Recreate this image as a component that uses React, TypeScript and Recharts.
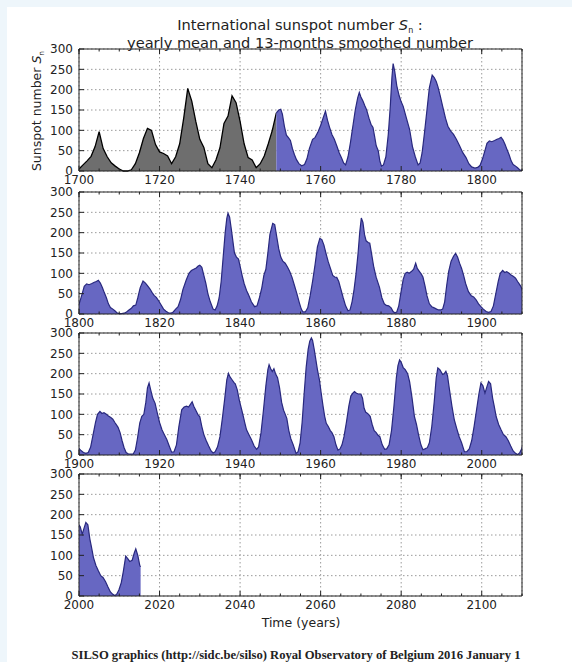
import React from 'react';
import { AreaChart, Area, XAxis, YAxis, CartesianGrid } from 'recharts';

// yearly mean sunspot number 1700..1749 (grey part of the first panel)
const YEARLY_FIRST_YEAR = 1700;
const yearlyMean = [
  5, 15, 25, 36, 60, 97, 55, 35, 20, 12,
  5, 0, 0, 3, 18, 45, 80, 105, 100, 65,
  47, 43, 37, 18, 35, 67, 130, 203, 172, 122,
  78, 58, 18, 8, 27, 57, 117, 135, 185, 168,
  122, 67, 33, 27, 8, 18, 37, 67, 100, 143,
];

// 13-months smoothed monthly number, [time, value]
const smoothed1700s: [number, number][] = [
  [1749, 143], [1749.6, 150], [1750.1, 152], [1750.5, 140], [1751, 110], [1751.5, 88], [1752, 82],
  [1752.5, 75], [1753, 55], [1753.5, 40], [1754, 28], [1754.6, 18], [1755.3, 13], [1756, 16],
  [1756.6, 30], [1757.2, 55], [1758, 78], [1758.6, 82], [1759.3, 95], [1760, 112], [1760.6, 130],
  [1761.2, 147], [1761.7, 125], [1762.2, 108], [1762.8, 90], [1763.4, 78], [1764, 62], [1764.6, 45],
  [1765.2, 32], [1765.7, 20], [1766.2, 15], [1766.8, 35], [1767.4, 70], [1768, 110], [1768.6, 150],
  [1769.2, 180], [1769.6, 193], [1770, 182], [1770.5, 172], [1771, 160], [1771.4, 151], [1772, 130],
  [1772.5, 115], [1773, 107], [1773.4, 85], [1773.8, 62], [1774.3, 50], [1774.7, 25], [1775.1, 12],
  [1775.6, 15], [1776.2, 35], [1776.8, 90], [1777.3, 160], [1777.7, 230], [1778, 264], [1778.4, 245],
  [1778.9, 210], [1779.5, 185], [1780, 170], [1780.5, 159], [1781.3, 130], [1782.1, 102], [1782.8, 60],
  [1783.5, 35], [1784.2, 15], [1784.7, 20], [1785.2, 45], [1785.8, 95], [1786.4, 150], [1787, 205],
  [1787.7, 236], [1788.2, 230], [1788.7, 220], [1789.1, 208], [1789.7, 185], [1790.3, 159], [1791, 130],
  [1791.6, 110], [1792.3, 98], [1793, 90], [1793.7, 78], [1794.5, 62], [1795.3, 45], [1796.1, 33],
  [1796.8, 18], [1797.5, 10], [1798.3, 7], [1799, 9], [1799.6, 14],
];
const smoothed1800s: [number, number][] = [
  [1800.2, 30], [1800.8, 50], [1801.3, 68], [1801.9, 74], [1802.5, 72], [1803.2, 75], [1803.8, 78],
  [1804.3, 80], [1804.8, 83], [1805.3, 76], [1805.8, 65], [1806.3, 52], [1806.8, 40], [1807.3, 25],
  [1807.8, 16], [1808.4, 12], [1808.9, 8], [1809.4, 3], [1810, 1], [1810.6, 1], [1811.2, 2],
  [1811.8, 5], [1812.4, 10], [1813, 14], [1813.5, 20], [1814.1, 22], [1814.6, 40], [1815.2, 65],
  [1815.9, 81], [1816.5, 76], [1817, 70], [1817.6, 62], [1818.2, 52], [1818.7, 45], [1819.2, 41],
  [1819.8, 32], [1820.4, 22], [1821, 12], [1821.6, 7], [1822.2, 3], [1822.8, 2], [1823.4, 5],
  [1824, 12], [1824.6, 18], [1825.2, 35], [1825.8, 60], [1826.6, 83], [1827.3, 100], [1827.9, 107],
  [1828.5, 110], [1829.1, 113], [1829.6, 118], [1830, 120], [1830.5, 115], [1831, 95], [1831.5, 75],
  [1832, 50], [1832.6, 30], [1833.3, 12], [1833.8, 10], [1834.3, 20], [1834.8, 40], [1835.3, 80],
  [1835.8, 140], [1836.3, 200], [1836.7, 235], [1837, 248], [1837.4, 238], [1837.8, 210], [1838.2, 180],
  [1838.6, 150], [1839.1, 140], [1839.6, 135], [1840, 118], [1840.5, 95], [1841, 75], [1841.6, 58],
  [1842.2, 45], [1842.8, 30], [1843.6, 18], [1844.2, 20], [1844.8, 40], [1845.4, 65], [1845.9, 95],
  [1846.4, 110], [1846.9, 150], [1847.4, 195], [1848.1, 223], [1848.6, 220], [1849.1, 190], [1849.6, 160],
  [1850.1, 140], [1850.6, 130], [1851.2, 125], [1851.8, 115], [1852.3, 105], [1852.9, 90], [1853.5, 70],
  [1854.1, 50], [1854.7, 28], [1855.2, 12], [1855.6, 5], [1856.2, 5], [1856.8, 15], [1857.4, 45],
  [1858, 80], [1858.6, 120], [1859.2, 165], [1859.8, 186], [1860.3, 183], [1860.8, 170], [1861.3, 150],
  [1861.9, 128], [1862.5, 110], [1863, 95], [1863.5, 91], [1864, 90], [1864.5, 80], [1865, 62],
  [1865.6, 40], [1866.2, 20], [1866.8, 8], [1867.3, 10], [1867.8, 30], [1868.3, 60], [1868.8, 100],
  [1869.3, 150], [1869.7, 200], [1870.1, 236], [1870.5, 225], [1870.9, 195], [1871.3, 180], [1871.8, 176],
  [1872.2, 174], [1872.7, 145], [1873.2, 115], [1873.8, 90], [1874.6, 66], [1875.2, 40], [1875.8, 25],
  [1876.3, 21], [1876.9, 20], [1877.5, 15], [1878, 6], [1878.4, 3], [1878.9, 5], [1879.4, 20],
  [1879.9, 50], [1880.5, 85], [1881, 100], [1881.5, 103], [1882, 100], [1882.6, 105], [1883.1, 110],
  [1883.6, 125], [1884, 112], [1884.5, 105], [1885, 98], [1885.4, 91], [1885.9, 70], [1886.4, 45],
  [1887, 25], [1887.6, 18], [1888.2, 15], [1888.8, 12], [1889.3, 10], [1889.8, 10], [1890.3, 12],
  [1890.8, 30], [1891.3, 70], [1891.8, 105], [1892.4, 130], [1893, 142], [1893.5, 149], [1894, 140],
  [1894.5, 125], [1895, 112], [1895.5, 95], [1896, 75], [1896.7, 55], [1897.4, 45], [1898, 42],
  [1898.6, 35], [1899.2, 25], [1899.8, 18],
];
const smoothed1900s: [number, number][] = [
  [1900.4, 12], [1901.1, 6], [1901.7, 4], [1902.3, 6], [1902.9, 20], [1903.5, 50], [1904.1, 80],
  [1904.6, 100], [1905.2, 107], [1905.7, 102], [1906.2, 104], [1906.8, 100], [1907.3, 96], [1907.9, 92],
  [1908.4, 88], [1908.9, 80], [1909.3, 74], [1909.7, 68], [1910.2, 55], [1910.7, 35], [1911.2, 18],
  [1911.7, 6], [1912.2, 3], [1912.8, 2], [1913.5, 3], [1914, 12], [1914.5, 40], [1915.1, 79],
  [1915.6, 95], [1916.1, 100], [1916.6, 130], [1917, 165], [1917.4, 177], [1917.8, 160], [1918.3, 140],
  [1918.9, 127], [1919.4, 105], [1920, 80], [1920.6, 62], [1921.2, 50], [1921.8, 38], [1922.4, 22],
  [1923, 7], [1923.6, 8], [1924.2, 25], [1924.8, 70], [1925.5, 111], [1926.1, 118], [1926.7, 120],
  [1927.2, 118], [1927.7, 125], [1928.1, 131], [1928.5, 120], [1929, 110], [1929.5, 100], [1930, 94],
  [1930.5, 70], [1931, 50], [1931.6, 35], [1932.2, 22], [1932.8, 10], [1933.3, 5], [1933.8, 8],
  [1934.4, 20], [1935, 45], [1935.6, 90], [1936.2, 140], [1936.7, 185], [1937.1, 201], [1937.5, 192],
  [1938, 185], [1938.5, 178], [1938.8, 175], [1939.3, 160], [1939.8, 135], [1940.3, 115], [1940.8, 95],
  [1941.2, 78], [1941.6, 62], [1942.2, 50], [1942.8, 38], [1943.5, 22], [1944.1, 14], [1944.6, 20],
  [1945.2, 55], [1945.8, 110], [1946.4, 170], [1946.9, 210], [1947.2, 222], [1947.6, 212], [1948, 205],
  [1948.4, 212], [1948.8, 200], [1949.3, 190], [1949.8, 165], [1950.3, 130], [1950.8, 110], [1951.1, 103],
  [1951.6, 90], [1952.1, 60], [1952.6, 40], [1953.2, 25], [1953.9, 4], [1954.4, 8], [1954.9, 30],
  [1955.4, 80], [1955.9, 150], [1956.4, 215], [1956.9, 260], [1957.3, 280], [1957.7, 288], [1958, 282],
  [1958.4, 260], [1958.8, 235], [1959.2, 210], [1959.7, 185], [1960.1, 155], [1960.6, 120], [1961, 95],
  [1961.4, 78], [1961.9, 70], [1962.4, 60], [1962.8, 55], [1963.3, 45], [1963.8, 25], [1964.3, 12],
  [1964.8, 15], [1965.3, 25], [1965.8, 45], [1966.4, 80], [1967, 120], [1967.5, 145], [1968, 152],
  [1968.4, 156], [1968.9, 152], [1969.4, 150], [1970, 150], [1970.4, 140], [1970.8, 115], [1971.2, 105],
  [1971.5, 103], [1971.9, 100], [1972.3, 95], [1972.8, 75], [1973.3, 60], [1973.8, 55], [1974.2, 49],
  [1974.7, 45], [1975.3, 25], [1975.9, 14], [1976.4, 15], [1977, 25], [1977.6, 60], [1978.2, 120],
  [1978.8, 190], [1979.2, 220], [1979.6, 234], [1980, 228], [1980.5, 215], [1981, 210], [1981.6, 200],
  [1982.1, 180], [1982.7, 140], [1983.3, 94], [1983.8, 75], [1984.3, 50], [1984.9, 25], [1985.4, 13],
  [1985.9, 15], [1986.5, 18], [1987, 30], [1987.6, 70], [1988.2, 130], [1988.7, 190], [1989.1, 214],
  [1989.6, 210], [1990.3, 198], [1990.7, 200], [1991.1, 206], [1991.5, 195], [1992, 160], [1992.6, 120],
  [1993.2, 86], [1993.8, 65], [1994.4, 45], [1995, 30], [1995.7, 8], [1996.3, 8], [1996.9, 15],
  [1997.5, 35], [1998.1, 70], [1998.7, 110], [1999.3, 150], [1999.8, 177],
];
const smoothed2000s: [number, number][] = [
  [2000.3, 170], [2000.8, 152], [2001.2, 165], [2001.7, 181], [2002.2, 175], [2002.7, 140], [2003.1, 120],
  [2003.6, 94], [2004.2, 75], [2004.8, 62], [2005.4, 50], [2006, 45], [2006.6, 35], [2007.2, 22],
  [2007.8, 10], [2008.4, 4], [2008.9, 1], [2009.4, 5], [2009.9, 15], [2010.5, 33], [2011, 60],
  [2011.6, 98], [2012.1, 92], [2012.6, 85], [2013.2, 88], [2013.7, 105], [2014.1, 116], [2014.6, 100],
  [2015.1, 75], [2015.3, 72],
];

const panelStarts = [1700, 1800, 1900, 2000];
const yTicks = [0, 50, 100, 150, 200, 250, 300];

const SPAN = 110;
const PANEL_TOPS = [49, 192, 333, 474];
const PLOT_H = 122;
const PAD_T = 14;
const PAD_B = 20;
const FONT = '"DejaVu Sans", Verdana, sans-serif';
const INK = '#222';

type Pt = { t: number; yearly?: number; smoothed?: number };

const allPoints: Pt[] = [
  ...yearlyMean.map((v, i) => ({ t: YEARLY_FIRST_YEAR + i, yearly: v })),
  ...[...smoothed1700s, ...smoothed1800s, ...smoothed1900s, ...smoothed2000s].map(([t, v]) => ({ t, smoothed: v })),
].sort((a, b) => a.t - b.t);

const bottomTick = (props: any) => {
  const { x, y, payload } = props;
  const major = payload.value % 20 === 0;
  return (
    <g>
      <line x1={x} x2={x} y1={y} y2={y - (major ? 5 : 2.5)} stroke={INK} />
      {major && (
        <text x={x} y={y + 13} textAnchor="middle" fontFamily={FONT} fontSize={12} fill={INK}>
          {payload.value}
        </text>
      )}
    </g>
  );
};

const topMajorTick = (props: any) => {
  const { x, y } = props;
  return <line x1={x} x2={x} y1={y} y2={y + 5} stroke={INK} />;
};

const topMinorTick = (props: any) => {
  const { x, y } = props;
  return <line x1={x} x2={x} y1={y + 1} y2={y + 3.5} stroke={INK} />;
};

const leftTick = (props: any) => {
  const { x, y, payload } = props;
  return (
    <g>
      <line x1={x} x2={x + 5} y1={y} y2={y} stroke={INK} />
      <text x={x - 6} y={y + 4.4} textAnchor="end" fontFamily={FONT} fontSize={12} fill={INK}>
        {payload.value}
      </text>
    </g>
  );
};

const rightTick = (props: any) => {
  const { x, y } = props;
  return <line x1={x} x2={x - 5} y1={y} y2={y} stroke={INK} />;
};

function Panel({ start, top }: { start: number; top: number }) {
  const end = start + SPAN;
  const data = allPoints.filter((p) => p.t >= start - 2 && p.t <= end + 2);
  const majors: number[] = [];
  for (let y = start; y < end; y += 20) majors.push(y);
  const minors: number[] = [];
  for (let y = start; y <= end; y += 5) minors.push(y);

  const xCommon = {
    dataKey: 't',
    type: 'number' as const,
    domain: [start, end],
    allowDataOverflow: true,
    interval: 0,
    height: 1,
    tickSize: 0,
    tickMargin: 0,
    tickLine: false,
  };
  const yCommon = {
    type: 'number' as const,
    domain: [0, 300],
    ticks: yTicks,
    interval: 0,
    width: 1,
    tickSize: 0,
    tickMargin: 0,
    tickLine: false,
    axisLine: { stroke: INK },
  };

  return (
    <div style={{ position: 'absolute', left: 0, top: top - PAD_T }}>
      <AreaChart
        width={572}
        height={PLOT_H + PAD_T + PAD_B}
        data={data}
        margin={{ top: PAD_T - 2, right: 49, bottom: PAD_B - 1, left: 78 }}
      >
        <CartesianGrid xAxisId="top" yAxisId="left" stroke="#9a9a9a" strokeDasharray="1.5 2.5" />
        <XAxis {...xCommon} xAxisId="bottom" ticks={minors} axisLine={{ stroke: INK }} tick={bottomTick} />
        <XAxis {...xCommon} xAxisId="top" orientation="top" ticks={majors} axisLine={{ stroke: INK }} tick={topMajorTick} />
        <XAxis {...xCommon} xAxisId="topMinor" orientation="top" ticks={minors} axisLine={false} tick={topMinorTick} />
        <YAxis {...yCommon} yAxisId="left" tick={leftTick} />
        <YAxis {...yCommon} yAxisId="right" orientation="right" tick={rightTick} />
        {start === YEARLY_FIRST_YEAR && (
          <Area
            xAxisId="bottom"
            yAxisId="left"
            type="linear"
            dataKey="yearly"
            stroke="#000"
            strokeWidth={1.3}
            fill="#6e6e6e"
            fillOpacity={1}
            dot={false}
            activeDot={false}
            isAnimationActive={false}
          />
        )}
        <Area
          xAxisId="bottom"
          yAxisId="left"
          type="linear"
          dataKey="smoothed"
          stroke="#28287e"
          strokeWidth={1.2}
          fill="#6767c2"
          fillOpacity={1}
          dot={false}
          activeDot={false}
          isAnimationActive={false}
        />
      </AreaChart>
    </div>
  );
}

export default function App() {
  return (
    <div style={{ position: 'absolute', left: 0, top: 0, width: 572, height: 662, background: '#eef6fb', overflow: 'hidden' }}>
      <svg width={572} height={662} style={{ position: 'absolute', left: 0, top: 0 }}>
        <rect x={7} y={7} width={565} height={655} fill="#fff" />
        <text x={300} y={30} textAnchor="middle" fontFamily={FONT} fontSize={14.6} fill={INK}>
          International sunspot number <tspan fontStyle="italic">S</tspan>
          <tspan fontSize={8} dy={3}>n</tspan>
          <tspan dy={-3}> :</tspan>
        </text>
        <text x={300} y={48} textAnchor="middle" fontFamily={FONT} fontSize={14.6} fill={INK}>
          yearly mean and 13-months smoothed number
        </text>
        <text transform="translate(41,111) rotate(-90)" textAnchor="middle" fontFamily={FONT} fontSize={12.5} fill={INK}>
          Sunspot number <tspan fontStyle="italic">S</tspan>
          <tspan fontSize={7.5} dy={3}>n</tspan>
        </text>
        <text x={301} y={627} textAnchor="middle" fontFamily={FONT} fontSize={12.5} fill={INK}>
          Time (years)
        </text>
        <text
          x={296}
          y={659}
          textAnchor="middle"
          fontFamily='"Liberation Serif", "Times New Roman", serif'
          fontWeight="bold"
          fontSize={11.5}
          fill={INK}
          textLength={449}
          lengthAdjust="spacingAndGlyphs"
        >
          SILSO graphics (http://sidc.be/silso)  Royal Observatory of Belgium  2016 January 1
        </text>
      </svg>
      {panelStarts.map((s, i) => (
        <Panel key={s} start={s} top={PANEL_TOPS[i]} />
      ))}
    </div>
  );
}
